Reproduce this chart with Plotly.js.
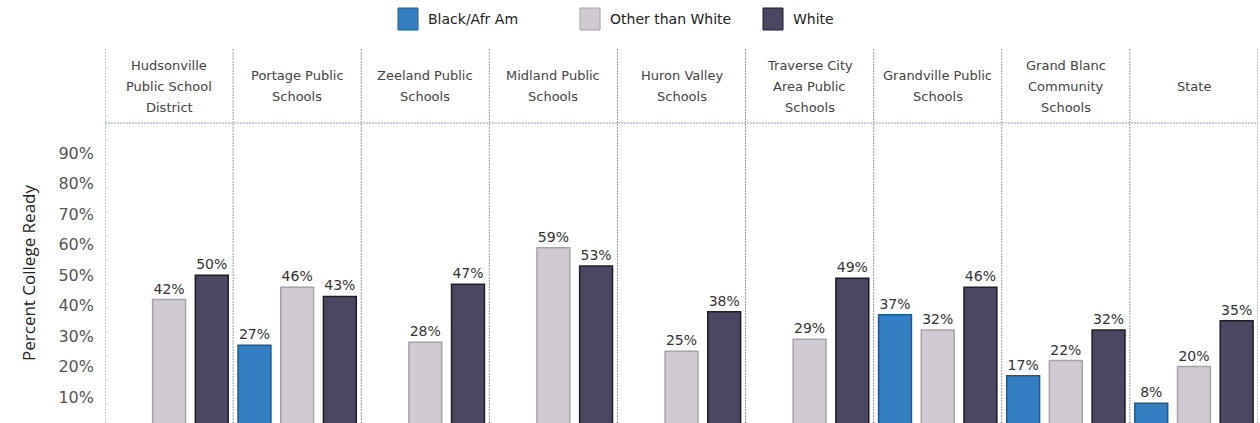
<!DOCTYPE html>
<html>
<head>
<meta charset="utf-8">
<script src="https://cdn.plot.ly/plotly-3.0.1.min.js"></script>
<style>
  html, body { margin: 0; padding: 0; background: #ffffff; }
  #chart { width: 1260px; height: 423px; }
</style>
</head>
<body>
<div id="chart"></div>
<script>
// ---- data ----
const schools = [
  "Hudsonville<br>Public School<br>District",
  "Portage Public<br>Schools",
  "Zeeland Public<br>Schools",
  "Midland Public<br>Schools",
  "Huron Valley<br>Schools",
  "Traverse City<br>Area Public<br>Schools",
  "Grandville Public<br>Schools",
  "Grand Blanc<br>Community<br>Schools",
  "State"
];
const seriesNames = ["Black/Afr Am", "Other than White", "White"];
const blackAfrAm   = [null, 27, null, null, null, null, 37, 17, 8];
const otherThanWhite = [42, 46, 28, 59, 25, 29, 32, 22, 20];
const whiteVals    = [50, 43, 47, 53, 38, 49, 46, 32, 35];
const tickValues = [10, 20, 30, 40, 50, 60, 70, 80, 90];
const tickLabels = ["10%", "20%", "30%", "40%", "50%", "60%", "70%", "80%", "90%"];

// ---- styling ----
const W = 1260, H = 423;
const M = {l: 105, r: 2, t: 123, b: 0};
const fills = ["#357ec2", "#d0cbd2", "#4a4762"];
const borders = ["#1b5894", "#a7a2aa", "#1e1c2b"];
const FONT = "DejaVu Sans, Verdana, sans-serif";
const gridCol = "#8d9db4";

const pw = W - M.l - M.r, ph = H - M.t - M.b;
const X = px => (px - M.l) / pw;
const Y = py => (H - M.b - py) / ph;

const allSeries = [blackAfrAm, otherThanWhite, whiteVals];
const nGroups = schools.length;

const traces = allSeries.map((vals, k) => ({
  type: "bar",
  name: seriesNames[k],
  x: schools.map((_, i) => i * 3 + k),
  y: vals,
  width: 0.77,
  marker: {color: fills[k], line: {color: borders[k], width: 1.5}},
  text: vals.map(v => v == null ? "" : v + "%"),
  textposition: "outside",
  textfont: {family: FONT, size: 14, color: "#333333"},
  cliponaxis: false,
  showlegend: false,
  hoverinfo: "skip"
}));

const shapes = [];
const annotations = [];

// panel separators
for (let i = 0; i <= nGroups; i++) {
  shapes.push({type: "line", xref: "x", yref: "paper",
    x0: i * 3 - 0.5, x1: i * 3 - 0.5, y0: 0, y1: Y(48),
    line: {color: gridCol, width: 1, dash: "2px,1px"}});
}
// header bottom line
shapes.push({type: "line", xref: "x", yref: "paper",
  x0: -0.5, x1: nGroups * 3 - 0.5, y0: 1, y1: 1,
  line: {color: gridCol, width: 1, dash: "2px,1px"}});

// headers (one annotation per line for wider line spacing)
const headerMid = 86, lineGap = 21;
schools.forEach((s, i) => {
  const lines = s.split("<br>");
  lines.forEach((ln, j) => {
    const py = headerMid + (j - (lines.length - 1) / 2) * lineGap;
    annotations.push({xref: "x", yref: "paper", x: i * 3 + 1, y: Y(py),
      text: ln, showarrow: false, xanchor: "center", yanchor: "middle",
      font: {family: FONT, size: 13, color: "#444444"}});
  });
});

// manual legend
const legendX = [398, 580, 763];
seriesNames.forEach((nm, k) => {
  shapes.push({type: "rect", xref: "paper", yref: "paper",
    x0: X(legendX[k]), x1: X(legendX[k] + 20), y0: Y(30), y1: Y(8),
    fillcolor: fills[k], line: {color: borders[k], width: 1}});
  annotations.push({xref: "paper", yref: "paper", x: X(legendX[k] + 28), y: Y(19),
    text: nm, showarrow: false, xanchor: "left", yanchor: "middle",
    font: {family: FONT, size: 14, color: "#222222"}});
});

const layout = {
  width: W, height: H,
  margin: M,
  paper_bgcolor: "#ffffff", plot_bgcolor: "#ffffff",
  bargap: 0, showlegend: false,
  xaxis: {range: [-0.5, nGroups * 3 - 0.5], showticklabels: false, showgrid: false,
          zeroline: false, showline: false, ticks: "", fixedrange: true},
  yaxis: {range: [1.5, 99.9], tickvals: tickValues, ticktext: tickLabels,
          showgrid: false, zeroline: false, showline: false, ticks: "",
          ticklabelstandoff: 10,
          tickfont: {family: FONT, size: 16, color: "#555555"},
          title: {text: "Percent College Ready", standoff: 18,
                  font: {family: "Open Sans, DejaVu Sans, sans-serif", size: 17, color: "#222222"}}},
  shapes: shapes,
  annotations: annotations
};

Plotly.newPlot("chart", traces, layout, {displayModeBar: false, staticPlot: true});
</script>
</body>
</html>
